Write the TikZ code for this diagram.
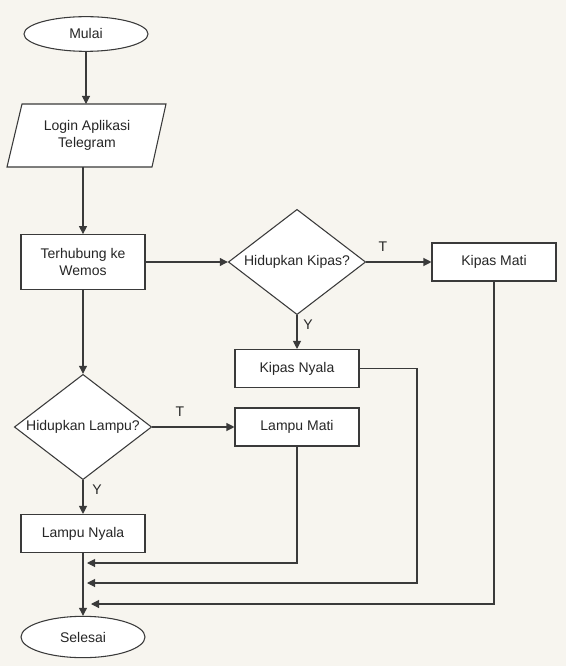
\documentclass[tikz,border=0pt]{standalone}
\usepackage{fontspec}
\setmainfont{Liberation Sans}
\usetikzlibrary{shapes.geometric,arrows.meta}
\definecolor{bg}{HTML}{F7F5EF}
\definecolor{ln}{HTML}{3A3A3A}
\begin{document}
\begin{tikzpicture}[x=0.75pt,y=-0.75pt,
  every node/.style={font=\fontsize{10.5}{13}\selectfont, text=black!85, align=center},
  line/.style={draw=ln, line width=0.8pt},
  arr/.style={line, -{Triangle[length=6pt,width=6pt]}},
  box/.style={line, fill=white, rectangle, minimum width=93pt, minimum height=28.5pt, inner sep=0pt},
  term/.style={line, fill=white, ellipse, minimum width=93pt, inner sep=0pt},
  dec/.style={line, fill=white, diamond, aspect=1.3, minimum width=103pt, minimum height=79pt, inner sep=0pt},
  lbl/.style={font=\fontsize{10.5}{13}\selectfont}]
\fill[bg] (0,0) rectangle (566,666);
\useasboundingbox (0,0) rectangle (566,666);

\node[term, minimum height=26pt] (mulai) at (86,34) {Mulai};
% Login parallelogram
\coordinate (lA) at (22,104); \coordinate (lB) at (166,104);
\coordinate (lC) at (152,167); \coordinate (lD) at (7,167);
\filldraw[line, fill=white] (lA) -- (lB) -- (lC) -- (lD) -- cycle;
\node (login) at (87,135.5) {Login Aplikasi\\Telegram};
\coordinate (loginTop) at (86,104);
\coordinate (loginBot) at (83,167);

\node[box, minimum height=41pt] (conn) at (83,262) {Terhubung ke\\Wemos};
\node[dec] (kipasq) at (297,262) {Hidupkan Kipas?};
\node[box] (kipasmati) at (494,262) {Kipas Mati};
\node[box] (kipasnyala) at (297,368.5) {Kipas Nyala};
\node[dec] (lampuq) at (83,427) {Hidupkan Lampu?};
\node[box] (lampumati) at (297,427) {Lampu Mati};
\node[box] (lampunyala) at (83,533.5) {Lampu Nyala};
\node[term, minimum height=31pt] (selesai) at (83,637) {Selesai};

\node[lbl] (t1) at (383,247) {T};
\node[lbl] (y1) at (308,325) {Y};
\node[lbl] (t2) at (180,412) {T};
\node[lbl] (y2) at (97,490) {Y};

\coordinate (r1) at (87,563);
\coordinate (r2) at (87,583);
\coordinate (r3) at (91,604);
\coordinate (k1) at (417,368.5);

\draw[arr] (mulai.south) -- (loginTop);
\draw[arr] (loginBot) -- (conn.north);
\draw[arr] (conn.east) -- (kipasq.west);
\draw[arr] (kipasq.east) -- (kipasmati.west);
\draw[arr] (kipasq.south) -- (kipasnyala.north);
\draw[arr] (conn.south) -- (lampuq.north);
\draw[arr] (lampuq.east) -- (lampumati.west);
\draw[arr] (lampuq.south) -- (lampunyala.north);
\draw[arr] (lampunyala.south) -- (selesai.north);
\draw[arr] (lampumati.south) |- (r1);
\draw[arr] (kipasnyala.east) -- (k1) |- (r2);
\draw[arr] (kipasmati.south) |- (r3);
\end{tikzpicture}
\end{document}
